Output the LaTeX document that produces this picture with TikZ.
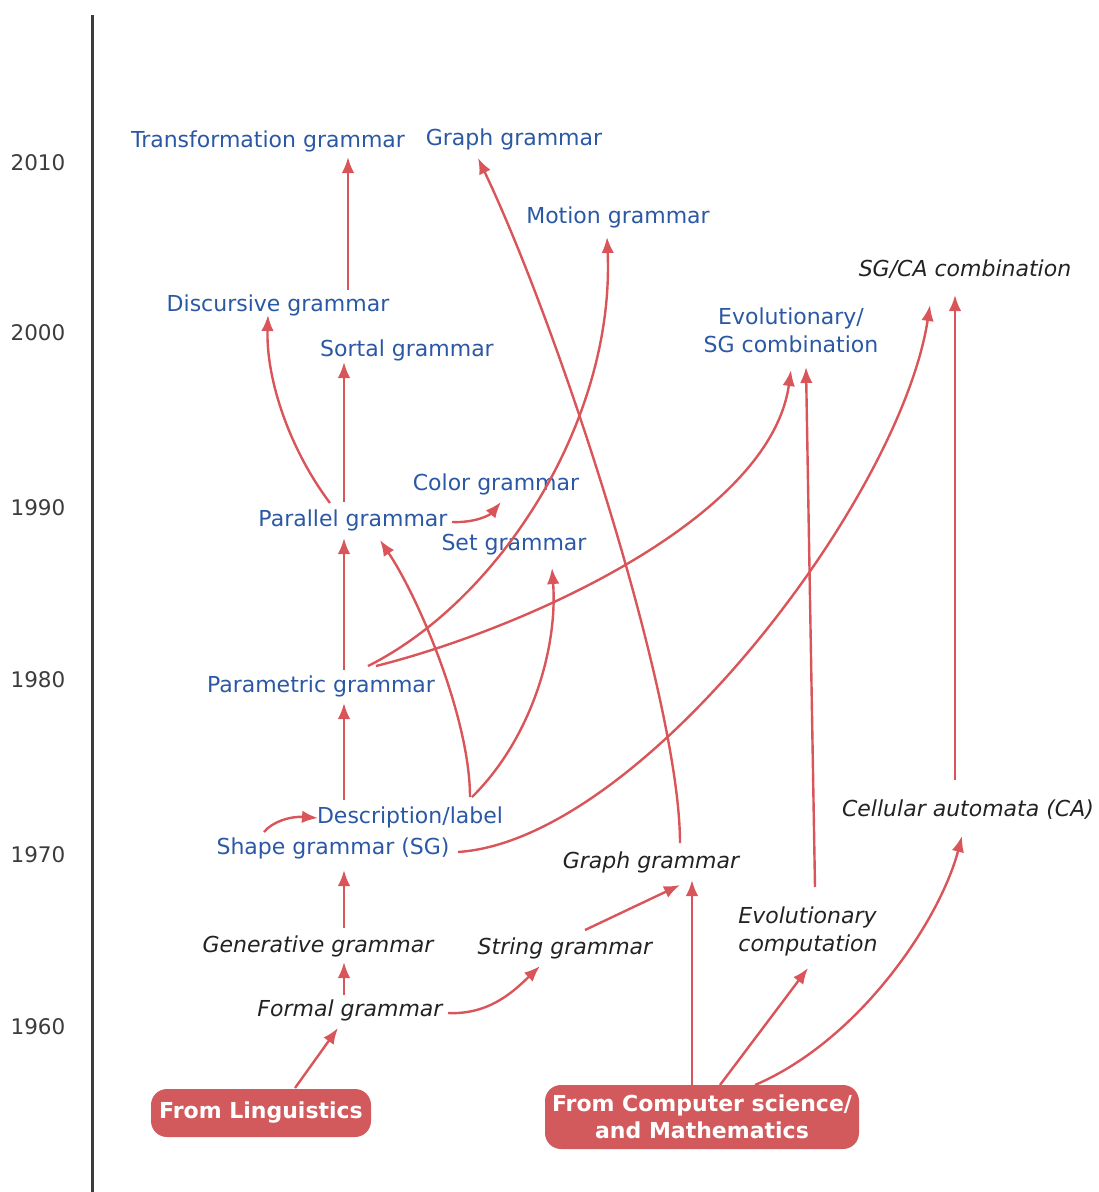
\documentclass[tikz,border=0pt]{standalone}
\usepackage{fontspec}
\setmainfont{DejaVu Sans}
\usetikzlibrary{arrows.meta,calc}
\definecolor{arrred}{HTML}{D9555A}
\definecolor{boxred}{HTML}{D35A5C}
\definecolor{tblue}{HTML}{2B58A5}
\definecolor{tblack}{HTML}{222222}
\definecolor{axisgray}{HTML}{3C3C3C}
\tikzset{
  blue/.style={text=tblue, font=\fontsize{22}{28}\selectfont, inner sep=2pt, align=center},
  ital/.style={text=tblack, font=\fontsize{22}{28}\selectfont\itshape, inner sep=2pt, align=center},
  year/.style={text=axisgray, font=\fontsize{21.5}{24}\selectfont, inner sep=0pt},
  srcbox/.style={fill=boxred, text=white, font=\fontsize{22}{27}\selectfont\bfseries, rounded corners=16pt, align=center, inner sep=0pt},
  arr/.style={draw=arrred, line width=2.4pt, -{Latex[length=16pt,width=12.5pt]}},
}
\begin{document}
\begin{tikzpicture}[x=1pt,y=-1pt]
\useasboundingbox (0,0) rectangle (1099,1192);
\draw[axisgray, line width=3pt] (92,15) -- (92,1192);
% years
\node[year] (y2010) at (38,163) {2010};
\node[year] (y2000) at (38,333) {2000};
\node[year] (y1990) at (38,508) {1990};
\node[year] (y1980) at (38,680) {1980};
\node[year] (y1970) at (38,855) {1970};
\node[year] (y1960) at (38,1027) {1960};
% nodes
\node[blue] (tg) at (268,141) {Transformation grammar};
\node[blue] (ggt) at (514,139) {Graph grammar};
\node[blue] (mg) at (618,217) {Motion grammar};
\node[ital] (sgca) at (965,269) {SG/CA combination};
\node[blue] (dg) at (278,305) {Discursive grammar};
\node[blue] (evsg) at (791,330) {Evolutionary/\\SG combination};
\node[blue] (sog) at (407,350) {Sortal grammar};
\node[blue] (cg) at (496,484) {Color grammar};
\node[blue] (pg) at (353,520) {Parallel grammar};
\node[blue] (setg) at (514,545) {Set grammar};
\node[blue] (pmg) at (321,686) {Parametric grammar};
\node[blue] (dl) at (410,817) {Description/label};
\node[blue] (sg) at (333,848) {Shape grammar (SG)};
\node[ital] (ggi) at (651,862) {Graph grammar};
\node[ital] (ca) at (968,810) {Cellular automata (CA)};
\node[ital, align=left] (ec) at (808,931) {Evolutionary\\computation};
\node[ital] (gen) at (318,946) {Generative grammar};
\node[ital] (str) at (565,948) {String grammar};
\node[ital] (fg) at (350,1010) {Formal grammar};
\node[srcbox, minimum width=220pt, minimum height=48pt] (ling) at (261,1113) {From Linguistics};
\node[srcbox, minimum width=314pt, minimum height=64pt] (cs) at (702,1117) {From Computer science/\\and Mathematics};
% arrows
\draw[arr] ($(ling)+(34,-25)$) -- ($(fg)+(-12,18)$);
\draw[arr] ($(fg)+(-6,-15)$) -- ($(gen)+(26,16)$);
\draw[arr] ($(fg)+(98,3)$) .. controls (490,1015) and (515,990) .. ($(str)+(-25,18)$);
\draw[arr] ($(gen)+(26,-18)$) -- ($(sg)+(11,22)$);
\draw[arr] ($(sg)+(-69,-16)$) .. controls (272,822) and (290,816) .. ($(dl)+(-92,1)$);
\draw[arr] ($(dl)+(-66,-17)$) -- ($(pmg)+(23,17)$);
\draw[arr] ($(pmg)+(23,-16)$) -- ($(pg)+(-9,18)$);
\draw[arr] ($(pg)+(-23,-17)$) .. controls (290,450) and (266,380) .. ($(dg)+(-10,10)$);
\draw[arr] ($(pg)+(-9,-18)$) -- ($(sog)+(-63,12)$);
\draw[arr] ($(dg)+(70,-15)$) -- ($(tg)+(80,16)$);
\draw[arr] ($(pg)+(99,2)$) .. controls (475,523) and (490,515) .. ($(cg)+(5,18)$);
\draw[arr] ($(dl)+(60,-20)$) .. controls (470,720) and (420,600) .. ($(pg)+(27,20)$);
\draw[arr] ($(dl)+(62,-20)$) .. controls (530,740) and (558,650) .. ($(setg)+(38,23)$);
\draw[arr] ($(pmg)+(47,-20)$) .. controls (500,600) and (615,420) .. ($(mg)+(-11,20)$);
\draw[arr] ($(pmg)+(55,-20)$) .. controls (520,630) and (770,520) .. ($(evsg)+(0,40)$);
\draw[arr] ($(sg)+(125,4)$) .. controls (640,840) and (900,500) .. ($(sgca)+(-35,36)$);
\draw[arr] ($(ggi)+(29,-19)$) .. controls (680,700) and (560,330) .. ($(ggt)+(-36,19)$);
\draw[arr] ($(cs)+(-10,-32)$) -- ($(ggi)+(41,18)$);
\draw[arr] ($(str)+(20,-18)$) -- ($(ggi)+(29,23)$);
\draw[arr] ($(cs)+(18,-32)$) -- ($(ec)+(0,37)$);
\draw[arr] ($(ec)+(7,-44)$) -- ($(evsg)+(15,37)$);
\draw[arr] ($(cs)+(53,-32)$) .. controls (860,1040) and (940,920) .. ($(ca)+(-6,26)$);
\draw[arr] ($(ca)+(-13,-30)$) -- ($(sgca)+(-10,26)$);
\end{tikzpicture}
\end{document}
